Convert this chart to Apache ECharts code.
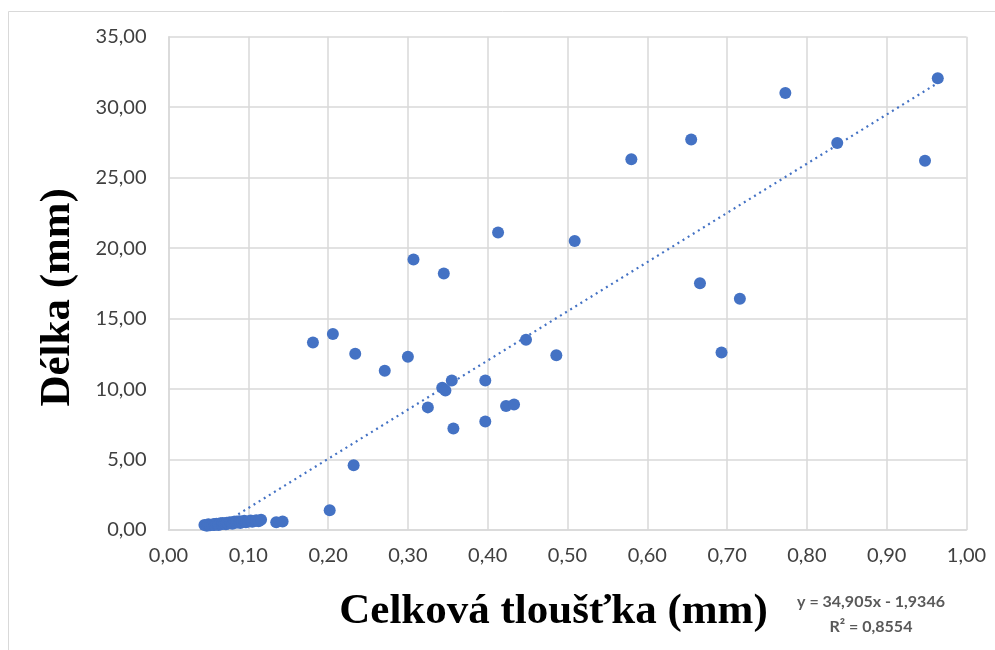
<!DOCTYPE html>
<html><head><meta charset="utf-8">
<script src="https://cdn.jsdelivr.net/npm/echarts@6/dist/echarts.min.js"></script>
<style>html,body{margin:0;padding:0;background:#fff}#c{width:995px;height:650px}</style>
</head><body><div id="c"></div>
<script>
// Measured points: thickness (mm), length (mm)
const thickness = [
  0.045,0.048,0.050,0.052,0.055,0.057,0.058,0.060,0.062,0.063,0.065,0.067,0.068,0.070,0.072,0.073,0.075,0.077,0.078,0.080,
  0.082,0.084,0.085,0.087,0.089,0.090,0.092,0.095,0.097,0.100,0.103,0.105,0.108,0.110,0.113,0.116,0.135,0.143,
  0.181,0.202,0.206,0.232,0.234,0.271,0.300,0.307,0.325,0.343,0.345,0.347,0.355,0.357,0.397,0.397,0.413,0.423,0.433,
  0.448,0.486,0.509,0.580,0.655,0.666,0.693,0.716,0.773,0.838,0.948,0.964
];
const length = [
  0.35,0.30,0.40,0.33,0.38,0.42,0.36,0.45,0.40,0.35,0.48,0.42,0.50,0.45,0.40,0.52,0.47,0.55,0.50,0.45,
  0.58,0.52,0.60,0.55,0.62,0.50,0.58,0.65,0.55,0.60,0.68,0.58,0.64,0.70,0.62,0.72,0.55,0.60,
  13.3,1.4,13.9,4.6,12.5,11.3,12.3,19.2,8.7,10.1,18.2,9.9,10.6,7.2,10.6,7.7,21.1,8.8,8.9,
  13.5,12.4,20.5,26.3,27.7,17.5,12.6,16.4,31.0,27.45,26.2,32.06
];
// Linear trendline reported on the chart
const trendSlope = [34.905];
const trendIntercept = [-1.9346];
const trendR2 = ['0,8554'];
const xTicks = ['0,00','0,10','0,20','0,30','0,40','0,50','0,60','0,70','0,80','0,90','1,00'];
const yTicks = ['0,00','5,00','10,00','15,00','20,00','25,00','30,00','35,00'];

const pts = thickness.map((x,i)=>[x,length[i]]);
const xMin = Math.min(...thickness), xMax = Math.max(...thickness);
const xStart = Math.max(xMin, -trendIntercept[0]/trendSlope[0]);
const trend = [[xStart, trendSlope[0]*xStart+trendIntercept[0]],[xMax, trendSlope[0]*xMax+trendIntercept[0]]];
function fmt3(v){return v.toFixed(3).replace('.', ',');}
const tickFont = 'Lato, "Open Sans", sans-serif';
const titleFont = '"Liberation Serif","Times New Roman",serif';

const chart = echarts.init(document.getElementById('c'), null, {renderer:'canvas'});
chart.setOption({
  animation:false,
  backgroundColor:'#fff',
  grid:{left:168.5, right:28.5, top:36.7, bottom:120},
  xAxis:{
    type:'value', min:0, max:1, interval:0.1,
    name:'Celková tloušťka (mm)', nameLocation:'middle', nameGap:60,
    nameTextStyle:{fontFamily:titleFont, fontWeight:'bold', fontSize:43, color:'#000', padding:[0,28,0,0]},
    axisLine:{show:true, lineStyle:{color:'#d9d9d9', width:1.5}},
    axisTick:{show:false},
    splitLine:{show:true, lineStyle:{color:'#d9d9d9', width:1.5}},
    axisLabel:{formatter:v=>xTicks[Math.round(v*10)], fontFamily:tickFont, fontSize:20, color:'#404040', margin:16}
  },
  yAxis:{
    type:'value', min:0, max:35, interval:5,
    name:'Délka (mm)', nameLocation:'middle', nameGap:89, nameRotate:90,
    nameTextStyle:{fontFamily:titleFont, fontWeight:'bold', fontSize:43, color:'#000', padding:[0,28,0,0]},
    axisLine:{show:true, lineStyle:{color:'#d9d9d9', width:1.5}},
    axisTick:{show:false},
    splitLine:{show:true, lineStyle:{color:'#d9d9d9', width:1.5}},
    axisLabel:{formatter:v=>yTicks[Math.round(v/5)], fontFamily:tickFont, fontSize:20, color:'#404040', margin:22}
  },
  series:[
    {type:'line', data:trend, showSymbol:false, symbol:'none', z:1,
     lineStyle:{color:'#4472C4', width:2.2, type:[2,4]}},
    {type:'scatter', data:pts, symbolSize:12, z:2, itemStyle:{color:'#4472C4', opacity:1}}
  ],
  graphic:[
    {type:'rect', shape:{x:8.5, y:11.5, width:1000, height:700}, style:{fill:null, stroke:'#d9d9d9', lineWidth:1}, z:-10, silent:true},
    {type:'text', x:871, y:602, style:{text:'y = '+fmt3(trendSlope[0])+'x - '+String(Math.abs(trendIntercept[0])).replace('.',','), fill:'#595959', font:'bold 16px Lato, "Open Sans", sans-serif', align:'center', verticalAlign:'middle'}},
    {type:'text', x:871, y:627, style:{text:'R² = '+trendR2[0], fill:'#595959', font:'bold 16px Lato, "Open Sans", sans-serif', align:'center', verticalAlign:'middle'}}
  ]
});
</script>
</body></html>
